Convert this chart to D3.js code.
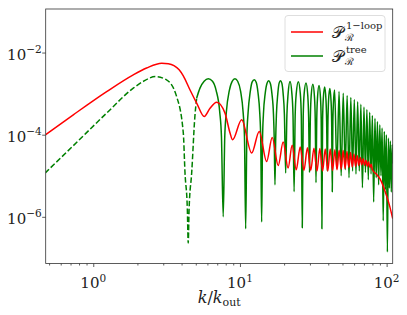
<!DOCTYPE html>
<html>
<head>
<meta charset="utf-8">
<script src="https://cdn.jsdelivr.net/npm/d3@7"></script>
<style>
body { margin: 0; background: #fff; }
svg { display: block; }
</style>
</head>
<body>
<svg id="chart" width="407" height="315"></svg>
<script>
// 1-loop spectrum: [k/k_out, P]
const loopPoints = [
    [0.474, 1.0e-4], [0.731, 3.05e-4], [1.234, 1.12e-3], [1.874, 2.87e-3], [2.31, 4.2e-3],
    [2.93, 5.5e-3], [3.25, 5.35e-3], [3.55, 4.8e-3], [3.85, 3.8e-3], [4.11, 2.7e-3],
    [4.56, 1.24e-3], [5.07, 5.9e-4],
    [5.71, 2.77e-4], [6.25, 4.4e-4], [6.94, 6.2e-4],
    [7.9, 3.4e-4], [8.56, 1.1e-4], [8.91, 7.5e-5], [10.27, 2.3e-4], [12.02, 3.56e-5],
    [13.54, 1.2e-4], [15.2, 2.23e-5], [16.6, 8.5e-5], [18.24, 1.78e-5], [19.7, 6.6e-5],
    [21.3, 1.54e-5], [22.7, 5.5e-5], [24.2, 1.4e-5], [25.75, 5.0e-5], [27.3, 1.35e-5],
    [28.85, 4.8e-5], [30.4, 1.35e-5], [31.95, 4.7e-5], [33.5, 1.3e-5], [35.05, 4.6e-5],
    [36.6, 1.3e-5], [38.15, 4.5e-5], [39.7, 1.3e-5], [41.25, 4.5e-5], [42.8, 1.35e-5],
    [44.35, 4.3e-5], [45.9, 1.4e-5], [47.45, 4.2e-5], [49.0, 1.45e-5], [50.55, 4.1e-5],
    [52.1, 1.5e-5], [53.65, 3.9e-5], [55.2, 1.6e-5], [56.75, 3.7e-5], [58.3, 1.65e-5],
    [59.85, 3.4e-5], [61.4, 1.7e-5], [62.95, 3.1e-5], [64.5, 1.8e-5], [66.05, 2.8e-5],
    [67.6, 1.85e-5], [69.15, 2.6e-5], [70.7, 1.8e-5], [72.25, 2.4e-5], [73.8, 1.7e-5],
    [75.35, 2.2e-5], [76.9, 1.6e-5], [78.45, 1.9e-5], [80.0, 1.4e-5], [85, 1.1e-5],
    [90, 8.5e-6], [95, 5.5e-6], [100, 3.2e-6], [105, 1.8e-6], [110, 9e-7]
];

// tree spectrum, dashed part (before the first zero)
const treeDashed = [
    [0.469, 1.16e-5], [0.731, 5.4e-5], [1.234, 3.36e-4], [1.874, 1.36e-3], [2.2, 2.0e-3],
    [2.65, 2.6e-3], [3.16, 2.17e-3], [3.70, 8.5e-4], [4.11, 1.1e-4], [4.22, 1.2e-5],
    [4.38, 1.5e-6], [4.44, 2.3e-7], [4.50, 1.5e-6], [4.69, 1.2e-5], [4.93, 2.8e-4],
    [5.07, 7.8e-4]
];

// tree spectrum, solid part
const treeSolid = [
    [5.07, 7.8e-4], [5.34, 1.36e-3], [5.7, 2.0e-3], [6.08, 2.3e-3], [6.5, 2.0e-3],
    [6.88, 1.2e-3], [7.28, 3.6e-4], [7.48, 9e-5], [7.69, 1.0e-6], [7.88, 9e-5],
    [8.08, 3.6e-4], [8.47, 1.2e-3], [8.85, 2.0e-3], [9.25, 2.3e-3], [9.65, 2.0e-3],
    [10.1, 1.15e-3], [10.52, 3.4e-4], [10.74, 8.5e-5], [10.94, 5.1e-7], [11.14, 8.5e-5],
    [11.36, 3.4e-4], [11.75, 1.1e-3], [12.1, 1.9e-3], [12.52, 2.17e-3], [12.9, 1.9e-3],
    [13.28, 1.05e-3], [13.66, 3.2e-4], [13.86, 8e-5], [14.06, 7.5e-7], [14.26, 8e-5],
    [14.46, 3.2e-4], [14.86, 1.0e-3], [15.3, 1.8e-3], [15.7, 2.05e-3], [16.1, 1.8e-3],
    [16.52, 1.0e-3], [16.93, 3.1e-4], [17.13, 8e-5], [17.33, 6.0e-6], [17.53, 8e-5],
    [17.73, 3.1e-4], [18.12, 1.0e-3], [18.5, 1.8e-3], [18.9, 2.05e-3], [19.3, 1.8e-3],
    [19.7, 1.0e-3], [20.1, 3.0e-4], [20.5, 1.16e-5], [20.9, 3.0e-4], [21.3, 1.0e-3],
    [21.95, 1.97e-3], [22.6, 1.0e-3], [23.0, 3.0e-4], [23.4, 4.1e-6], [23.8, 3.0e-4],
    [24.2, 1.0e-3], [25.0, 1.95e-3], [25.8, 1.0e-3], [26.2, 2.8e-4], [26.6, 5.4e-7],
    [27.0, 2.8e-4], [27.4, 1.0e-3], [28.2, 1.82e-3], [29.0, 9e-4], [29.4, 2.6e-4],
    [29.8, 1.2e-5], [30.2, 2.6e-4], [30.6, 9e-4], [31.4, 1.7e-3], [32.2, 8.5e-4],
    [32.6, 2.5e-4], [33.0, 6.8e-6], [33.4, 2.5e-4], [33.8, 8e-4], [34.6, 1.57e-3],
    [35.4, 8e-4], [35.8, 2.3e-4], [36.2, 5.1e-7], [36.6, 2.3e-4], [37.0, 7.5e-4],
    [37.8, 1.45e-3], [38.6, 7e-4], [39.0, 2.1e-4], [39.4, 1.3e-5], [39.8, 2.1e-4],
    [40.2, 7e-4], [41.0, 1.33e-3], [41.8, 6.5e-4], [42.2, 2.0e-4], [42.6, 4.1e-6],
    [43.0, 2.0e-4], [43.4, 6e-4], [44.2, 1.22e-3], [45.8, 1.5e-5], [47.4, 1.12e-3],
    [49.0, 1.0e-5], [50.6, 1.02e-3], [52.2, 1.4e-5], [53.8, 9.0e-4], [55.4, 9e-6],
    [57.0, 8.1e-4], [58.6, 1.3e-5], [60.2, 7.2e-4], [61.8, 1.1e-5], [63.45, 6.3e-4],
    [65.1, 1.3e-5], [66.75, 5.5e-4], [68.4, 5.1e-6], [70.05, 4.7e-4], [71.7, 1.2e-5],
    [73.35, 4.1e-4], [75.0, 8e-6], [76.65, 3.5e-4], [78.3, 1.1e-5], [79.95, 2.95e-4],
    [81.6, 2.3e-6], [83.25, 2.5e-4], [84.9, 9e-6], [86.55, 2.1e-4], [88.2, 6e-6],
    [89.85, 1.75e-4], [91.5, 1.0e-5], [93.15, 1.45e-4], [94.8, 8e-7], [96.4, 1.2e-4],
    [98.0, 4.6e-6], [99.6, 1.0e-4], [101.2, 1.4e-7], [102.8, 8.3e-5], [104.4, 5e-6],
    [106.0, 7.0e-5], [107.6, 4e-6], [109.2, 5.8e-5], [110, 2e-5]
];

const xMajor = [1, 10, 100];
const xMinor = [0.5, 0.6, 0.7, 0.8, 0.9, 2, 3, 4, 5, 6, 7, 8, 9, 20, 30, 40, 50, 60, 70, 80, 90];
const yMajor = [1e-2, 1e-4, 1e-6];
const xTickLabels = ["0", "1", "2"];
const yTickLabels = ["\u22122", "\u22124", "\u22126"];

const seriesNames = ["1\u2212loop", "tree"];
const seriesColors = ["#ff0000", "#008000"];

const svg = d3.select("#chart");
const plotLeft = 45.7, plotRight = 392.7, plotTop = 9, plotBottom = 263.5;

const x = d3.scaleLog().domain([0.474, 110]).range([plotLeft, plotRight]);
const y = d3.scaleLog().domain([7.3e-8, 0.115]).range([plotBottom, plotTop]);

const serif = "'DejaVu Serif', 'Liberation Serif', serif";

// clip to the axes box
svg.append("defs").append("clipPath").attr("id", "plot")
    .append("rect").attr("x", plotLeft).attr("y", plotTop)
    .attr("width", plotRight - plotLeft).attr("height", plotBottom - plotTop);

const line = d3.line()
    .x(d => x(d[0]))
    .y(d => y(d[1]))
    .curve(d3.curveMonotoneX);

const g = svg.append("g").attr("clip-path", "url(#plot)");

g.append("path").datum(treeDashed)
    .attr("fill", "none").attr("stroke", seriesColors[1])
    .attr("stroke-width", 1.5).attr("stroke-dasharray", "5.5,2.4")
    .attr("d", line);

g.append("path").datum(treeSolid)
    .attr("fill", "none").attr("stroke", seriesColors[1])
    .attr("stroke-width", 1.5).attr("stroke-linejoin", "round")
    .attr("d", line);

g.append("path").datum(loopPoints)
    .attr("fill", "none").attr("stroke", seriesColors[0])
    .attr("stroke-width", 1.5).attr("stroke-linejoin", "round")
    .attr("d", line);

// axes
const xAxisMajor = d3.axisBottom(x).tickValues(xMajor).tickSize(3.5).tickSizeOuter(0).tickFormat("");
const xAxisMinor = d3.axisBottom(x).tickValues(xMinor).tickSize(2).tickSizeOuter(0).tickFormat("");
const yAxisMajor = d3.axisLeft(y).tickValues(yMajor).tickSize(3.5).tickSizeOuter(0).tickFormat("");

[xAxisMinor, xAxisMajor].forEach(ax => {
    svg.append("g").attr("transform", `translate(0,${plotBottom})`).call(ax)
        .call(s => s.select(".domain").remove())
        .selectAll("line").attr("stroke", "#333").attr("stroke-width", 0.8);
});
svg.append("g").attr("transform", `translate(${plotLeft},0)`).call(yAxisMajor)
    .call(s => s.select(".domain").remove())
    .selectAll("line").attr("stroke", "#333").attr("stroke-width", 0.8);

svg.append("rect")
    .attr("x", plotLeft).attr("y", plotTop)
    .attr("width", plotRight - plotLeft).attr("height", plotBottom - plotTop)
    .attr("fill", "none").attr("stroke", "#333").attr("stroke-width", 0.8);

// tick labels: 10^n
xMajor.forEach((v, i) => {
    const t = svg.append("text")
        .attr("x", x(v)).attr("y", plotBottom + 24)
        .attr("text-anchor", "middle")
        .attr("font-family", serif).attr("font-size", 15).attr("fill", "#222");
    t.append("tspan").text("10");
    t.append("tspan").attr("dy", -6).attr("font-size", 10.5).text(xTickLabels[i]);
});

yMajor.forEach((v, i) => {
    const t = svg.append("text")
        .attr("x", plotLeft - 4).attr("y", y(v) + 7)
        .attr("text-anchor", "end")
        .attr("font-family", serif).attr("font-size", 15).attr("fill", "#222");
    t.append("tspan").text("10");
    t.append("tspan").attr("dy", -7).attr("font-size", 10.5).text(yTickLabels[i]);
});

// x label
const xl = svg.append("text")
    .attr("x", (plotLeft + plotRight) / 2).attr("y", 303)
    .attr("text-anchor", "middle")
    .attr("font-family", serif).attr("font-size", 16).attr("fill", "#222");
xl.append("tspan").attr("font-style", "italic").text("k");
xl.append("tspan").text("/");
xl.append("tspan").attr("font-style", "italic").text("k");
xl.append("tspan").attr("dy", 3).attr("font-size", 11).text("out");

// legend
const lg = svg.append("g");
lg.append("rect")
    .attr("x", 285).attr("y", 15.5).attr("width", 100).attr("height", 56)
    .attr("rx", 3).attr("fill", "#fff").attr("fill-opacity", 0.8)
    .attr("stroke", "#d6d6d6").attr("stroke-width", 0.8);

seriesNames.forEach((name, i) => {
    const cy = 32 + i * 24;
    lg.append("line")
        .attr("x1", 291).attr("x2", 323).attr("y1", cy).attr("y2", cy)
        .attr("stroke", seriesColors[i]).attr("stroke-width", 1.5);
    lg.append("text")
        .attr("x", 332).attr("y", cy + 6)
        .attr("font-family", serif).attr("font-size", 16).attr("fill", "#222")
        .text("\uD835\uDCAB");
    lg.append("text")
        .attr("x", 346).attr("y", cy - 3)
        .attr("font-family", serif).attr("font-size", 10).attr("fill", "#222")
        .text(name);
    lg.append("text")
        .attr("x", 345).attr("y", cy + 9)
        .attr("font-family", serif).attr("font-size", 10).attr("fill", "#222")
        .text("\u211B");
});
</script>
</body>
</html>
